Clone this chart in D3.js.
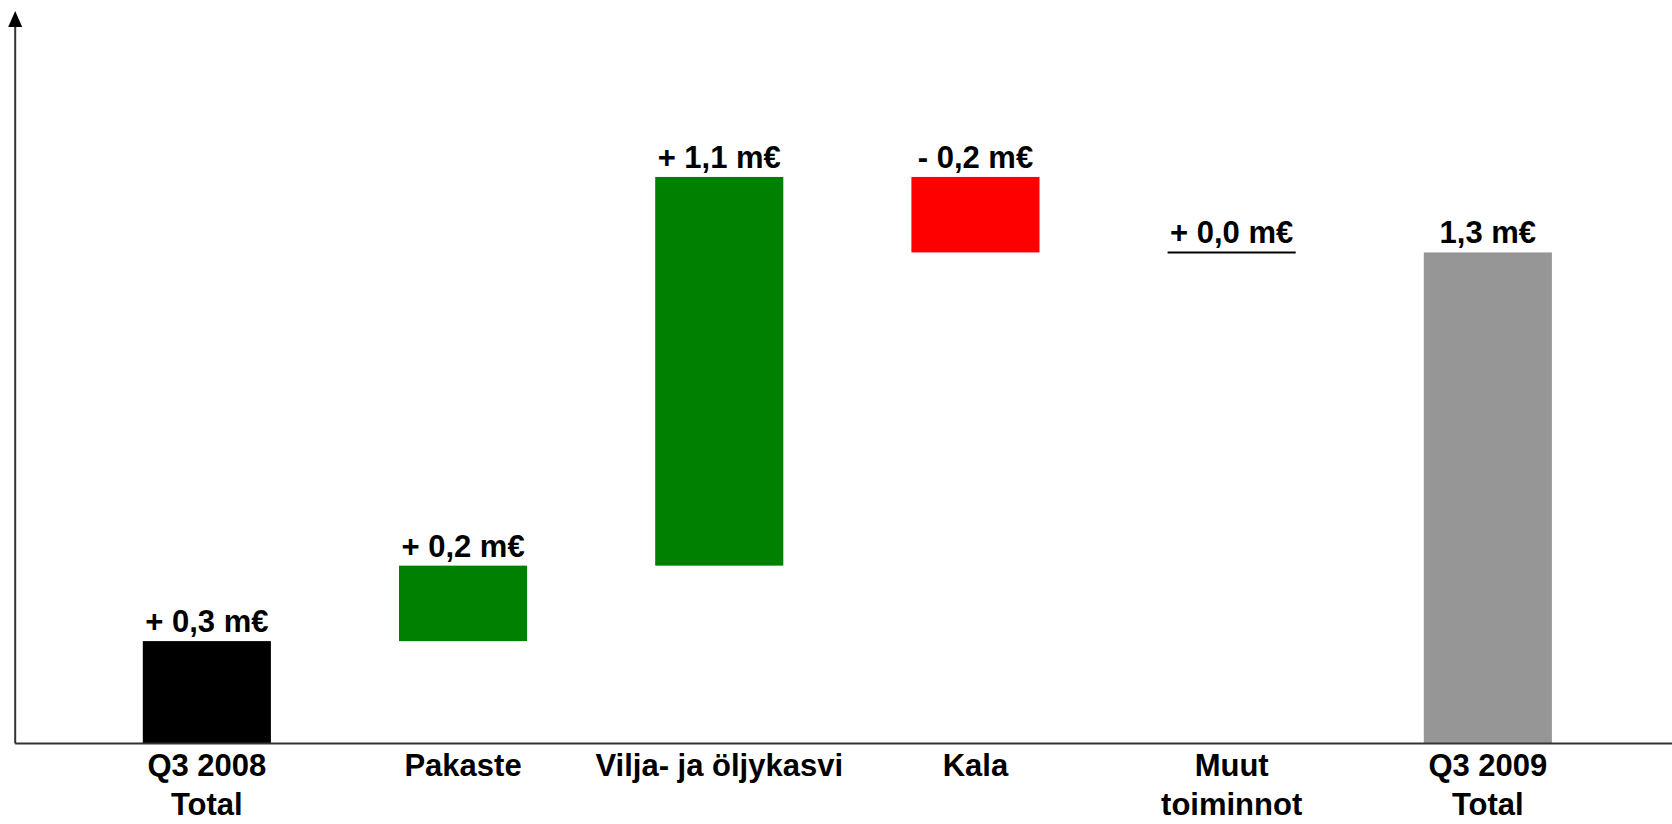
<!DOCTYPE html>
<html lang="fi">
<head>
    <meta charset="UTF-8">
    <title>Q3 2008 - Q3 2009 bridge</title>
    <script src="https://d3js.org/d3.v7.min.js"></script>
    <style>
        body {
            margin: 0;
            background: #fff;
        }

        text {
            font-family: Arial, "Liberation Sans", sans-serif;
            font-weight: bold;
            font-size: 31px;
            fill: #000;
        }
    </style>
</head>
<body>
    <script>
        // categories (\n = line break in the label)
        const categories = ["Q3 2008\nTotal", "Pakaste", "Vilja- ja öljykasvi", "Kala", "Muut\ntoiminnot", "Q3 2009\nTotal"];
        // change per category, m€
        const values = [0.27, 0.2, 1.03, -0.2, 0, 1.3];
        // which bars are totals (start from zero)
        const isTotal = [true, false, false, false, false, true];
        // value labels above the bars
        const valueLabels = ["+ 0,3 m€", "+ 0,2 m€", "+ 1,1 m€", "- 0,2 m€", "+ 0,0 m€", "1,3 m€"];
        const colors = ["#000000", "#008000", "#008000", "#ff0000", "#000000", "#969696"];

        const width = 1672;
        const height = 824;
        const yMax = 1.9;

        const svg = d3.select("body").append("svg")
            .attr("width", width)
            .attr("height", height);

        // the plot runs a bit past the right edge of the picture
        const x = d3.scaleBand()
            .domain(categories)
            .range([14.7, 1680])
            .padding(0.5);

        const y = d3.scaleLinear()
            .domain([0, yMax])
            .range([743, 26]);

        // build the waterfall steps
        let running = 0;
        const steps = categories.map((c, i) => {
            let start, end;
            if (isTotal[i]) {
                start = 0;
                end = values[i];
            } else {
                start = running;
                end = running + values[i];
            }
            running = end;
            return { cat: c, start: start, end: end, color: colors[i], label: valueLabels[i] };
        });

        // bars
        svg.selectAll("rect.bar")
            .data(steps.filter(d => d.start !== d.end))
            .enter()
            .append("rect")
            .attr("class", "bar")
            .attr("x", d => x(d.cat))
            .attr("y", d => y(Math.max(d.start, d.end)))
            .attr("width", x.bandwidth())
            .attr("height", d => Math.abs(y(d.start) - y(d.end)))
            .attr("fill", d => d.color);

        // zero change -> just a line
        svg.selectAll("line.zero")
            .data(steps.filter(d => d.start === d.end))
            .enter()
            .append("line")
            .attr("class", "zero")
            .attr("x1", d => x(d.cat))
            .attr("x2", d => x(d.cat) + x.bandwidth())
            .attr("y1", d => y(d.end))
            .attr("y2", d => y(d.end))
            .attr("stroke", "#000")
            .attr("stroke-width", 2);

        // value labels
        svg.selectAll("text.val")
            .data(steps)
            .enter()
            .append("text")
            .attr("class", "val")
            .attr("x", d => x(d.cat) + x.bandwidth() / 2)
            .attr("y", d => y(Math.max(d.start, d.end)) - 9)
            .attr("text-anchor", "middle")
            .text(d => d.label);

        // x axis
        const xAxis = svg.append("g")
            .attr("transform", `translate(0,${y(0)})`)
            .call(d3.axisBottom(x).tickSize(0).tickSizeOuter(0));

        xAxis.select(".domain")
            .attr("stroke", "#333")
            .attr("stroke-width", 2);

        xAxis.selectAll(".tick text")
            .attr("dy", null)
            .attr("y", 0)
            .each(function (d) {
                const t = d3.select(this);
                t.text(null);
                d.split("\n").forEach((line, i) => {
                    t.append("tspan")
                        .attr("x", 0)
                        .attr("y", 33 + i * 39)
                        .text(line);
                });
            });
        xAxis.attr("font-size", null).attr("font-family", null);

        // y axis, no ticks
        const yAxis = svg.append("g")
            .attr("transform", `translate(${x.range()[0]},0)`)
            .call(d3.axisLeft(y).ticks(0).tickSizeOuter(0));

        yAxis.select(".domain")
            .attr("stroke", "#333")
            .attr("stroke-width", 2);

        // arrow head
        const ax = x.range()[0] + 0.5;
        const axTop = y(yMax);
        svg.append("path")
            .attr("d", `M${ax},${axTop - 15}L${ax - 7},${axTop + 1}L${ax + 7},${axTop + 1}Z`)
            .attr("fill", "#000");
    </script>
</body>
</html>
